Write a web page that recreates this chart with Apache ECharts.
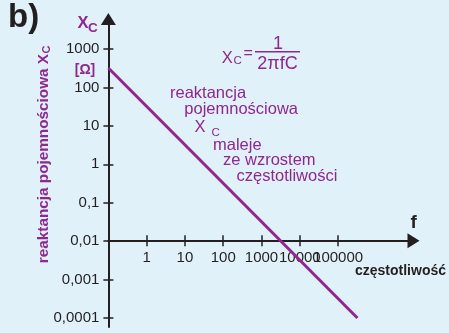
<!DOCTYPE html>
<html>
<head>
<meta charset="utf-8">
<script src="https://cdn.jsdelivr.net/npm/echarts@6/dist/echarts.min.js"></script>
<style>
html,body{margin:0;padding:0;background:#e0f1f9;}
#chart{width:449px;height:333px;}
</style>
</head>
<body>
<div id="chart"></div>
<script>
// ---- data ----
const xTickValues = [1, 10, 100, 1000, 10000, 100000];
const xTickLabels = ['1', '10', '100', '1000', '10000', '100000'];
const yTickValues = [0.0001, 0.001, 0.01, 0.1, 1, 10, 100, 1000];
const yTickLabels = ['0,0001', '0,001', '0,01', '0,1', '1', '10', '100', '1000'];
const reactanceF = [0.1, 320000];
const reactanceX = [320, 0.0001];

// ---- style ----
const PURPLE = '#8e278f';
const DARK = '#231f20';
const FONT = '"Liberation Sans", Arial, sans-serif';
const xMin = 0.1, xMax = Math.pow(10, 6.97);
const yMin = Math.pow(10, -4.234), yMax = Math.pow(10, 3.78);

function labelFor(values, labels) {
  return function (v) {
    const lv = Math.round(Math.log10(v));
    for (let i = 0; i < values.length; i++) {
      if (Math.round(Math.log10(values[i])) === lv) return labels[i];
    }
    return '';
  };
}

const seriesData = reactanceF.map((f, i) => [f, reactanceX[i]]);
// labels split across two overlaid axes so the tightly packed labels are never auto-hidden
const xLabelsEven = xTickValues.filter((_, i) => i % 2 === 0);
const xLabelsOdd = xTickValues.filter((_, i) => i % 2 === 1);

function xAxisDef(inside, main, labelValues) {
  return {
    type: 'log', logBase: 10, min: xMin, max: xMax, position: 'bottom', offset: -86.3,
    axisLine: { show: main, onZero: false, symbol: ['none', 'triangle'], symbolSize: [15, 12],
      lineStyle: { color: DARK, width: 2 } },
    axisTick: { show: true, inside: inside, length: 5.5, customValues: xTickValues,
      lineStyle: { color: DARK, width: 1.5 } },
    axisLabel: { show: true, inside: false, customValues: labelValues, formatter: labelFor(xTickValues, xTickLabels),
      hideOverlap: false, showMinLabel: true, showMaxLabel: true,
      color: DARK, fontSize: 15, fontFamily: FONT, margin: 10 },
    splitLine: { show: false }, minorTick: { show: false }
  };
}
function yAxisDef(inside, main) {
  return {
    type: 'log', logBase: 10, min: yMin, max: yMax, position: 'left', offset: 0,
    axisLine: { show: main, onZero: false, symbol: ['none', 'triangle'], symbolSize: [15, 12],
      lineStyle: { color: DARK, width: 2 } },
    axisTick: { show: true, inside: inside, length: 5, customValues: yTickValues,
      lineStyle: { color: DARK, width: 1.5 } },
    axisLabel: { show: main, customValues: yTickValues, formatter: labelFor(yTickValues, yTickLabels),
      hideOverlap: false, showMinLabel: true, showMaxLabel: true,
      color: DARK, fontSize: 15, fontFamily: FONT, margin: 9 },
    splitLine: { show: false }, minorTick: { show: false }
  };
}

function txt(text, x, y, font, fill, align) {
  return { type: 'text', x: x, y: y, silent: true,
    style: { text: text, font: font, fill: fill, textAlign: align || 'left', textVerticalAlign: 'middle' } };
}

const chart = echarts.init(document.getElementById('chart'), null, { renderer: 'canvas' });
chart.setOption({
  backgroundColor: '#e0f1f9',
  animation: false,
  grid: { left: 108.4, right: 35.5, top: 19, bottom: 6, containLabel: false, outerBoundsMode: 'none' },
  xAxis: [xAxisDef(false, true, xLabelsEven), xAxisDef(true, false, xLabelsOdd)],
  yAxis: [yAxisDef(false, true), yAxisDef(true, false)],
  series: [{
    type: 'line', xAxisIndex: 0, yAxisIndex: 0, data: seriesData, showSymbol: false, symbol: 'none',
    clip: false, lineStyle: { color: PURPLE, width: 3 }, z: 5
  }],
  graphic: [
    txt('b)', 8, 17.6, 'bold 33px ' + FONT, DARK),
    txt('X', 77.5, 23.3, 'bold 16.5px ' + FONT, PURPLE),
    txt('C', 88, 28.7, 'bold 13.5px ' + FONT, PURPLE),
    txt('[Ω]', 85, 70.5, 'bold 14px ' + FONT, PURPLE, 'center'),
    {
      type: 'group', x: 44, y: 54, rotation: Math.PI / 2, silent: true,
      children: [
        { type: 'text', x: 0, y: 0, style: { text: 'reaktancja pojemnościowa X', font: 'bold 15.3px ' + FONT,
          fill: PURPLE, textAlign: 'right', textVerticalAlign: 'middle' } },
        { type: 'text', x: 0.5, y: 3, style: { text: 'C', font: 'bold 11px ' + FONT,
          fill: PURPLE, textAlign: 'left', textVerticalAlign: 'middle' } }
      ]
    },
    // formula
    txt('X', 221.7, 58.3, '16.5px ' + FONT, PURPLE),
    txt('C', 233.5, 61, '11.5px ' + FONT, PURPLE),
    txt('=', 243.5, 53.3, '16px ' + FONT, PURPLE),
    { type: 'line', silent: true, shape: { x1: 255, y1: 51.7, x2: 300, y2: 51.7 },
      style: { stroke: PURPLE, lineWidth: 1.5 } },
    txt('1', 278, 44.3, '18px ' + FONT, PURPLE, 'center'),
    txt('2πfC', 277.5, 64.3, '18px ' + FONT, PURPLE, 'center'),
    // annotation
    txt('reaktancja', 170, 93.6, '16.5px ' + FONT, PURPLE),
    txt('pojemnościowa', 184.3, 109.3, '16.5px ' + FONT, PURPLE),
    txt('X', 194.5, 127.8, '16.5px ' + FONT, PURPLE),
    txt('C', 211.5, 133, '11.5px ' + FONT, PURPLE),
    txt('maleje', 213, 145.3, '16.5px ' + FONT, PURPLE),
    txt('ze wzrostem', 223, 160.7, '16.5px ' + FONT, PURPLE),
    txt('częstotliwości', 236.5, 176.3, '16.5px ' + FONT, PURPLE),
    // axis names
    txt('f', 413.7, 222.6, 'bold 19px ' + FONT, DARK, 'center'),
    txt('częstotliwość', 355, 270.7, 'bold 14px ' + FONT, DARK)
  ]
});
</script>
</body>
</html>
